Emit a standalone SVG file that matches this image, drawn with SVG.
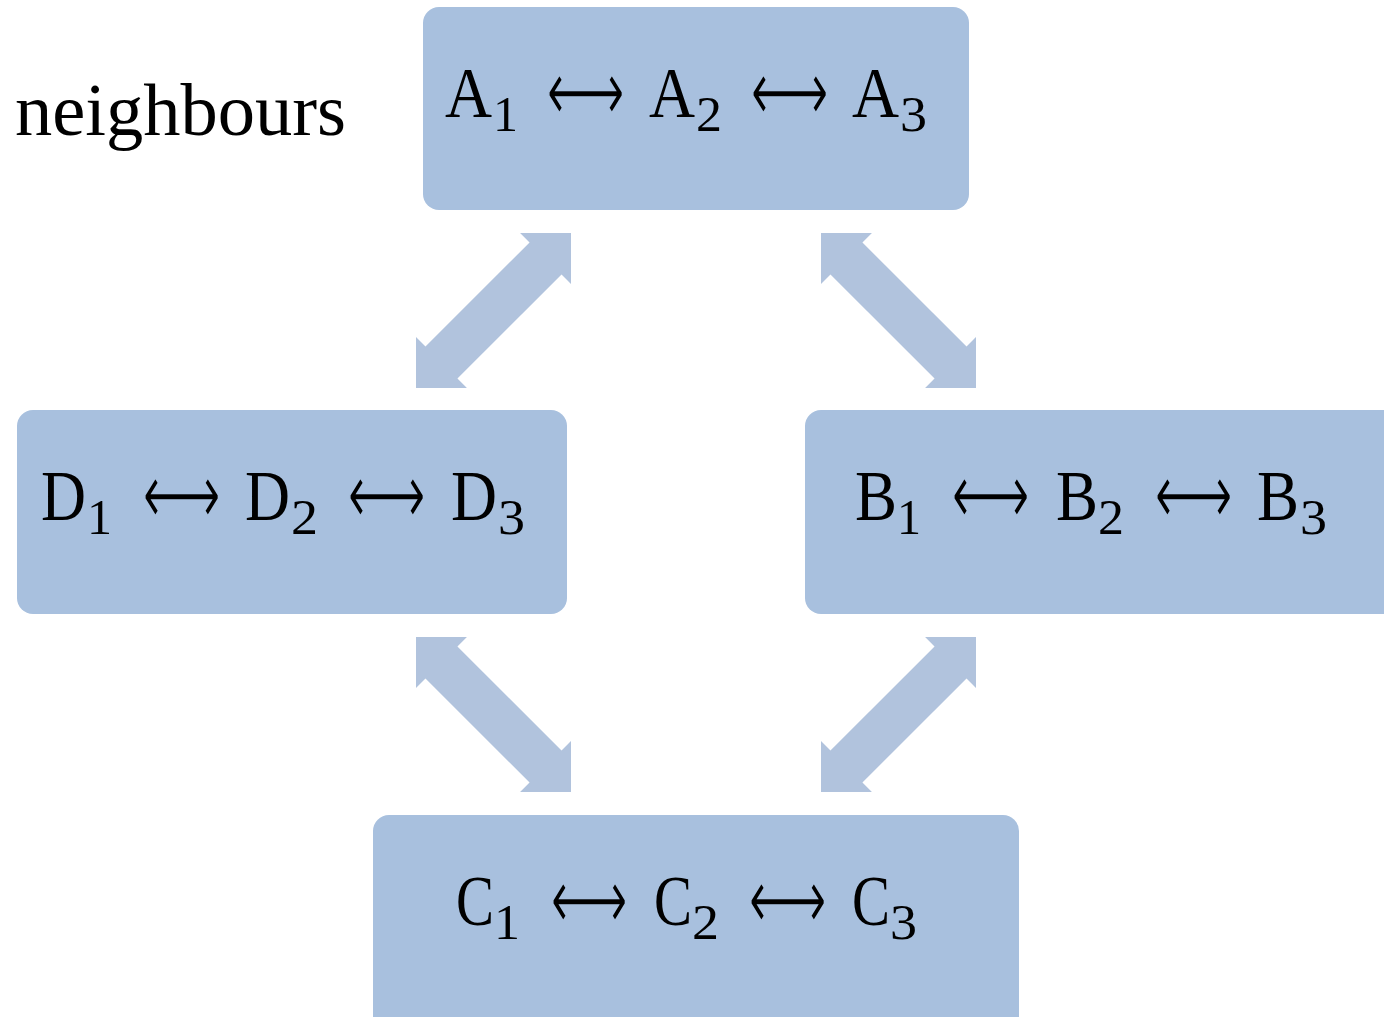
<svg xmlns="http://www.w3.org/2000/svg" xmlns:xlink="http://www.w3.org/1999/xlink" width="1384" height="1017" viewBox="0 0 1384 1017">
<style>
.box{fill:#a8c0de}
.conn{fill:#b1c3dd}
.m{font-family:"Liberation Serif","DejaVu Serif",serif;font-size:72px;fill:#000}
.s{font-family:"Liberation Serif","DejaVu Serif",serif;font-size:50px;fill:#000}
.ar{font-family:"DejaVu Sans",sans-serif;font-size:90px;fill:#000;stroke:#a8c0de;stroke-width:2.4}
.lbl{font-family:"Liberation Serif","DejaVu Serif",serif;font-size:74px;fill:#000}
</style>
<defs>
<polygon id="dbl" points="-109.6,0 -73.6,-36 -73.6,-22.6 73.6,-22.6 73.6,-36 109.6,0 73.6,36 73.6,22.6 -73.6,22.6 -73.6,36"/>
</defs>
<rect width="1384" height="1017" fill="#fff"/>
<text class="lbl" x="15" y="135" textLength="331" lengthAdjust="spacingAndGlyphs">neighbours</text>
<g id="connectors" class="conn">
<use xlink:href="#dbl" transform="translate(493.5 310.5) rotate(-45)"/>
<use xlink:href="#dbl" transform="translate(898.5 310.5) rotate(45)"/>
<use xlink:href="#dbl" transform="translate(493.5 714.5) rotate(45)"/>
<use xlink:href="#dbl" transform="translate(898.5 714.5) rotate(-45)"/>
</g>
<g id="nodeA">
<rect class="box" x="423" y="7" width="546" height="203" rx="16"/>
<text class="m" x="445" y="117" textLength="47" lengthAdjust="spacingAndGlyphs">A</text>
<text class="s" x="493" y="131" textLength="25" lengthAdjust="spacingAndGlyphs">1</text>
<text class="ar" x="546" y="122" textLength="79" lengthAdjust="spacingAndGlyphs">⟷</text>
<text class="m" x="649" y="117" textLength="46" lengthAdjust="spacingAndGlyphs">A</text>
<text class="s" x="696" y="131" textLength="26" lengthAdjust="spacingAndGlyphs">2</text>
<text class="ar" x="750" y="122" textLength="79" lengthAdjust="spacingAndGlyphs">⟷</text>
<text class="m" x="852" y="117" textLength="47" lengthAdjust="spacingAndGlyphs">A</text>
<text class="s" x="900" y="131" textLength="27" lengthAdjust="spacingAndGlyphs">3</text>
</g>
<g id="nodeD">
<rect class="box" x="17" y="410" width="550" height="204" rx="16"/>
<text class="m" x="41" y="520" textLength="45" lengthAdjust="spacingAndGlyphs">D</text>
<text class="s" x="87" y="534" textLength="25" lengthAdjust="spacingAndGlyphs">1</text>
<text class="ar" x="142" y="525" textLength="79" lengthAdjust="spacingAndGlyphs">⟷</text>
<text class="m" x="245" y="520" textLength="45" lengthAdjust="spacingAndGlyphs">D</text>
<text class="s" x="291" y="534" textLength="27" lengthAdjust="spacingAndGlyphs">2</text>
<text class="ar" x="347" y="525" textLength="79" lengthAdjust="spacingAndGlyphs">⟷</text>
<text class="m" x="451" y="520" textLength="46" lengthAdjust="spacingAndGlyphs">D</text>
<text class="s" x="498" y="534" textLength="27" lengthAdjust="spacingAndGlyphs">3</text>
</g>
<g id="nodeB">
<rect class="box" x="805" y="410" width="600" height="204" rx="16"/>
<text class="m" x="855" y="520" textLength="42" lengthAdjust="spacingAndGlyphs">B</text>
<text class="s" x="897" y="534" textLength="24" lengthAdjust="spacingAndGlyphs">1</text>
<text class="ar" x="951" y="525" textLength="79" lengthAdjust="spacingAndGlyphs">⟷</text>
<text class="m" x="1056" y="520" textLength="42" lengthAdjust="spacingAndGlyphs">B</text>
<text class="s" x="1098" y="534" textLength="26" lengthAdjust="spacingAndGlyphs">2</text>
<text class="ar" x="1154" y="525" textLength="79" lengthAdjust="spacingAndGlyphs">⟷</text>
<text class="m" x="1257" y="520" textLength="42" lengthAdjust="spacingAndGlyphs">B</text>
<text class="s" x="1300" y="534" textLength="27" lengthAdjust="spacingAndGlyphs">3</text>
</g>
<g id="nodeC">
<rect class="box" x="373" y="815" width="646" height="230" rx="16"/>
<text class="m" x="456" y="925" textLength="38" lengthAdjust="spacingAndGlyphs">C</text>
<text class="s" x="494" y="939" textLength="26" lengthAdjust="spacingAndGlyphs">1</text>
<text class="ar" x="550" y="930" textLength="78" lengthAdjust="spacingAndGlyphs">⟷</text>
<text class="m" x="654" y="925" textLength="38" lengthAdjust="spacingAndGlyphs">C</text>
<text class="s" x="692" y="939" textLength="27" lengthAdjust="spacingAndGlyphs">2</text>
<text class="ar" x="748" y="930" textLength="79" lengthAdjust="spacingAndGlyphs">⟷</text>
<text class="m" x="852" y="925" textLength="38" lengthAdjust="spacingAndGlyphs">C</text>
<text class="s" x="890" y="939" textLength="27" lengthAdjust="spacingAndGlyphs">3</text>
</g>
</svg>
